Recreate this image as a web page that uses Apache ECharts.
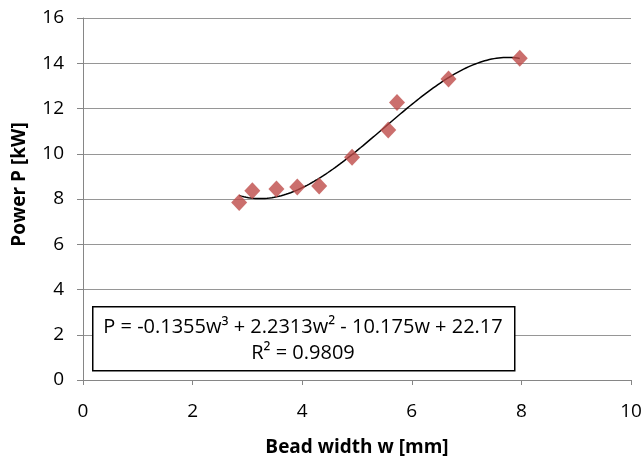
<!DOCTYPE html>
<html><head><meta charset="utf-8">
<script src="https://cdn.jsdelivr.net/npm/echarts@6/dist/echarts.min.js"></script>
<style>html,body{margin:0;padding:0;background:#fff}#c{width:644px;height:456px}</style>
</head><body><div id="c"></div>
<script>
// Data
const beadWidth = [2.85, 3.09, 3.53, 3.91, 4.31, 4.91, 5.57, 5.73, 6.67, 7.97];
const power     = [7.85, 8.37, 8.44, 8.53, 8.57, 9.84, 11.05, 12.27, 13.30, 14.22];
// Trendline coefficients as printed on the chart: P = a w^3 + b w^2 + c w + d
const trendCoef = [-0.1355, 2.2313, -10.175, 22.17];
const trendRange = [2.85, 7.97];
const xTicks = [0, 2, 4, 6, 8, 10];
const yTicks = [0, 2, 4, 6, 8, 10, 12, 14, 16];
const eqLine1 = 'P = -0.1355w³ + 2.2313w² - 10.175w + 22.17';
const eqLine2 = 'R² = 0.9809';

const trend = [];
const steps = 120;
for (let i = 0; i <= steps; i++) {
  const w = trendRange[0] + (trendRange[1] - trendRange[0]) * i / steps;
  const p = ((trendCoef[0] * w + trendCoef[1]) * w + trendCoef[2]) * w + trendCoef[3];
  trend.push([w, p]);
}

const FONT = '"Open Sans", Lato, sans-serif';
const chart = echarts.init(document.getElementById('c'), null, {renderer: 'canvas'});
chart.setOption({
  animation: false,
  grid: {left: 83, top: 18, right: 13, bottom: 76, containLabel: false, outerBoundsMode: 'none'},
  xAxis: {
    type: 'value', min: xTicks[0], max: xTicks[xTicks.length - 1], interval: 2,
    name: 'Bead width w [mm]', nameLocation: 'middle', nameGap: 58,
    nameTextStyle: {fontFamily: FONT, fontWeight: 'bold', fontSize: 19, color: '#000'},
    axisLine: {show: true, lineStyle: {color: '#868686', width: 1}},
    axisTick: {show: true, length: 5, lineStyle: {color: '#868686'}},
    axisLabel: {fontFamily: FONT, fontSize: 19, color: '#000', margin: 22},
    splitLine: {show: false}
  },
  yAxis: {
    type: 'value', min: yTicks[0], max: yTicks[yTicks.length - 1], interval: 2,
    name: 'Power P [kW]', nameLocation: 'middle', nameGap: 54, nameRotate: 90,
    nameTextStyle: {fontFamily: FONT, fontWeight: 'bold', fontSize: 19, color: '#000', padding: [0, 0, 0, 29]},
    axisLine: {show: true, lineStyle: {color: '#868686', width: 1}},
    axisTick: {show: true, length: 6, lineStyle: {color: '#868686'}},
    axisLabel: {fontFamily: FONT, fontSize: 19, color: '#000', margin: 19},
    splitLine: {show: true, lineStyle: {color: '#969696', width: 1}}
  },
  series: [
    {
      type: 'line', data: trend, showSymbol: false, smooth: false,
      lineStyle: {color: '#000', width: 1.5}, z: 2, silent: true
    },
    {
      type: 'scatter', data: beadWidth.map((w, i) => [w, power[i]]),
      symbol: 'diamond', symbolSize: [16, 17],
      itemStyle: {color: '#BE4B48'}, z: 3
    }
  ],
  graphic: [
    {type: 'rect', left: 92, top: 306, shape: {width: 422, height: 64}, z: 10,
     style: {fill: '#fff', stroke: '#000', lineWidth: 1.5}},
    {type: 'text', x: 303, y: 327, z: 11,
     style: {text: eqLine1, fontFamily: FONT, fontSize: 20, fill: '#000', align: 'center', verticalAlign: 'middle'}},
    {type: 'text', x: 303, y: 353, z: 11,
     style: {text: eqLine2, fontFamily: FONT, fontSize: 20, fill: '#000', align: 'center', verticalAlign: 'middle'}}
  ]
});
</script></body></html>
